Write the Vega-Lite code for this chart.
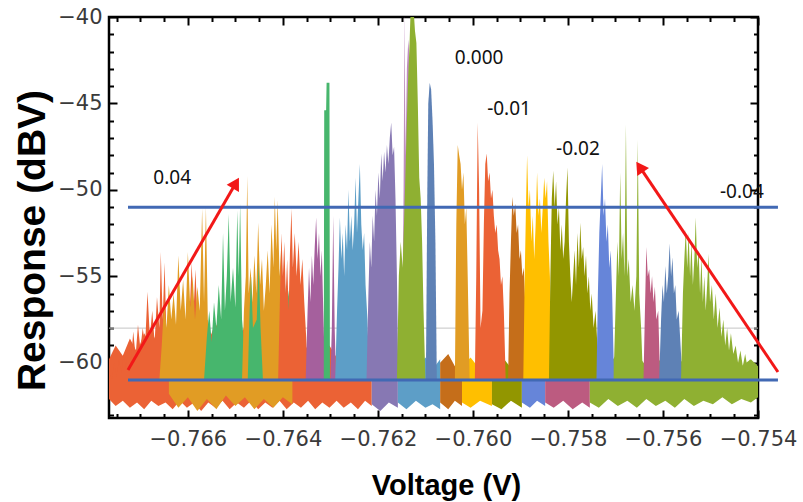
{
  "$schema": "https://vega.github.io/schema/vega-lite/v6.json",
  "width": 649,
  "height": 401,
  "autosize": "none",
  "padding": {"left": 109, "top": 17, "right": 45, "bottom": 84},
  "background": "white",
  "config": {
    "view": {"stroke": "#000", "strokeWidth": 2.5},
    "axis": {"grid": false, "domain": false, "tickColor": "#000", "tickWidth": 2, "labelFont": "DejaVu Sans", "labelFontSize": 21, "labelColor": "#3a3a3a", "titleFont": "Liberation Sans", "titleFontWeight": "bold", "titleColor": "#000", "labelFlush": false, "labelOverlap": false}
  },
  "resolve": {"axis": {"x": "independent", "y": "independent"}},
  "datasets": {
    "grid": [{"r": -58}],
    "floor": [
      {"s":"f1","v":-0.76766,"hi":-59.8,"lo":-62.1},{"s":"f1","v":-0.76752,"hi":-59.0,"lo":-62.5},{"s":"f1","v":-0.76737,"hi":-59.6,"lo":-62.2},{"s":"f1","v":-0.76722,"hi":-58.6,"lo":-62.6},{"s":"f1","v":-0.76707,"hi":-59.4,"lo":-62.3},{"s":"f1","v":-0.76692,"hi":-58.3,"lo":-62.7},{"s":"f1","v":-0.76677,"hi":-59.0,"lo":-62.2},{"s":"f1","v":-0.76662,"hi":-58.0,"lo":-62.5},{"s":"f1","v":-0.76647,"hi":-58.8,"lo":-62.3},{"s":"f1","v":-0.76632,"hi":-57.8,"lo":-62.7},{"s":"f1","v":-0.76617,"hi":-58.7,"lo":-62.2},{"s":"f1","v":-0.76602,"hi":-57.6,"lo":-62.6},{"s":"f1","v":-0.76587,"hi":-58.5,"lo":-62.3},{"s":"f1","v":-0.76572,"hi":-57.9,"lo":-62.8},{"s":"f1","v":-0.76557,"hi":-58.8,"lo":-62.3},{"s":"f1","v":-0.76542,"hi":-57.7,"lo":-62.6},{"s":"f1","v":-0.76527,"hi":-58.6,"lo":-62.2},{"s":"f1","v":-0.76512,"hi":-57.9,"lo":-62.7},{"s":"f1","v":-0.76497,"hi":-58.9,"lo":-62.3},{"s":"f1","v":-0.76482,"hi":-58.0,"lo":-62.6},{"s":"f1","v":-0.76467,"hi":-58.8,"lo":-62.2},{"s":"f1","v":-0.76452,"hi":-58.1,"lo":-62.7},{"s":"f1","v":-0.76437,"hi":-59.0,"lo":-62.3},{"s":"f1","v":-0.76422,"hi":-58.2,"lo":-62.6},{"s":"f1","v":-0.76407,"hi":-58.9,"lo":-62.2},{"s":"f1","v":-0.76392,"hi":-58.3,"lo":-62.7},{"s":"f1","v":-0.76377,"hi":-59.1,"lo":-62.3},{"s":"f1","v":-0.76362,"hi":-58.5,"lo":-62.6},{"s":"f1","v":-0.76347,"hi":-59.3,"lo":-62.2},{"s":"f1","v":-0.76332,"hi":-58.8,"lo":-62.7},{"s":"f1","v":-0.76317,"hi":-59.5,"lo":-62.3},{"s":"f1","v":-0.76302,"hi":-59.0,"lo":-62.6},{"s":"f1","v":-0.76287,"hi":-59.7,"lo":-62.2},{"s":"f1","v":-0.76272,"hi":-59.2,"lo":-62.6},{"s":"f1","v":-0.76257,"hi":-59.8,"lo":-62.3},{"s":"f1","v":-0.76242,"hi":-59.3,"lo":-62.7},{"s":"f1","v":-0.76227,"hi":-59.9,"lo":-62.2},{"s":"f1","v":-0.76213,"hi":-59.5,"lo":-62.5},
      {"s":"fb","v":-0.76640,"hi":-60.5,"lo":-61.8},{"s":"fb","v":-0.76620,"hi":-59.6,"lo":-62.6},{"s":"fb","v":-0.76600,"hi":-60.3,"lo":-62.0},{"s":"fb","v":-0.76580,"hi":-59.4,"lo":-62.8},{"s":"fb","v":-0.76560,"hi":-60.4,"lo":-62.1},{"s":"fb","v":-0.76540,"hi":-59.7,"lo":-62.7},{"s":"fb","v":-0.76520,"hi":-60.6,"lo":-61.9},{"s":"fb","v":-0.76500,"hi":-59.8,"lo":-62.5},{"s":"fb","v":-0.76480,"hi":-60.5,"lo":-62.0},{"s":"fb","v":-0.76460,"hi":-59.6,"lo":-62.7},{"s":"fb","v":-0.76440,"hi":-60.4,"lo":-62.1},{"s":"fb","v":-0.76420,"hi":-59.9,"lo":-62.6},{"s":"fb","v":-0.76400,"hi":-60.6,"lo":-62.0},{"s":"fb","v":-0.76380,"hi":-60.2,"lo":-62.4},
      {"s":"f2","v":-0.76213,"hi":-60.2,"lo":-62.4},{"s":"f2","v":-0.76195,"hi":-59.7,"lo":-62.8},{"s":"f2","v":-0.76177,"hi":-60.4,"lo":-62.3},{"s":"f2","v":-0.76158,"hi":-59.8,"lo":-62.6},
      {"s":"f3","v":-0.76158,"hi":-60.1,"lo":-62.3},{"s":"f3","v":-0.76140,"hi":-59.6,"lo":-62.7},{"s":"f3","v":-0.76120,"hi":-60.3,"lo":-62.2},{"s":"f3","v":-0.76100,"hi":-59.7,"lo":-62.6},{"s":"f3","v":-0.76085,"hi":-60.4,"lo":-62.4},{"s":"f3","v":-0.76069,"hi":-59.8,"lo":-62.7},
      {"s":"f4","v":-0.76069,"hi":-60.0,"lo":-62.3},{"s":"f4","v":-0.76052,"hi":-59.5,"lo":-62.7},{"s":"f4","v":-0.76038,"hi":-60.2,"lo":-62.2},{"s":"f4","v":-0.76023,"hi":-59.7,"lo":-62.5},
      {"s":"f5","v":-0.76023,"hi":-60.2,"lo":-62.3},{"s":"f5","v":-0.76005,"hi":-59.7,"lo":-62.6},{"s":"f5","v":-0.75985,"hi":-60.4,"lo":-62.2},{"s":"f5","v":-0.75960,"hi":-59.8,"lo":-62.5},
      {"s":"f6","v":-0.75960,"hi":-60.1,"lo":-62.4},{"s":"f6","v":-0.75940,"hi":-59.6,"lo":-62.7},{"s":"f6","v":-0.75920,"hi":-60.3,"lo":-62.2},{"s":"f6","v":-0.75897,"hi":-59.8,"lo":-62.6},
      {"s":"f7","v":-0.75897,"hi":-60.2,"lo":-62.3},{"s":"f7","v":-0.75880,"hi":-59.7,"lo":-62.6},{"s":"f7","v":-0.75865,"hi":-60.3,"lo":-62.2},{"s":"f7","v":-0.75848,"hi":-59.9,"lo":-62.5},
      {"s":"f8","v":-0.75848,"hi":-60.1,"lo":-62.3},{"s":"f8","v":-0.75830,"hi":-59.6,"lo":-62.6},{"s":"f8","v":-0.75810,"hi":-60.4,"lo":-62.2},{"s":"f8","v":-0.75790,"hi":-59.7,"lo":-62.7},{"s":"f8","v":-0.75770,"hi":-60.3,"lo":-62.3},{"s":"f8","v":-0.75754,"hi":-59.8,"lo":-62.6},
      {"s":"f9","v":-0.75754,"hi":-60.0,"lo":-62.3},{"s":"f9","v":-0.75735,"hi":-59.5,"lo":-62.6},{"s":"f9","v":-0.75715,"hi":-60.2,"lo":-62.1},{"s":"f9","v":-0.75695,"hi":-59.4,"lo":-62.5},{"s":"f9","v":-0.75675,"hi":-60.1,"lo":-62.2},{"s":"f9","v":-0.75655,"hi":-59.5,"lo":-62.6},{"s":"f9","v":-0.75635,"hi":-60.2,"lo":-62.1},{"s":"f9","v":-0.75615,"hi":-59.6,"lo":-62.5},{"s":"f9","v":-0.75595,"hi":-60.3,"lo":-62.2},{"s":"f9","v":-0.75575,"hi":-59.5,"lo":-62.6},{"s":"f9","v":-0.75555,"hi":-60.1,"lo":-62.1},{"s":"f9","v":-0.75535,"hi":-59.4,"lo":-62.5},{"s":"f9","v":-0.75515,"hi":-60.2,"lo":-62.2},{"s":"f9","v":-0.75495,"hi":-59.6,"lo":-62.4},{"s":"f9","v":-0.75475,"hi":-60.3,"lo":-62.0},{"s":"f9","v":-0.75455,"hi":-59.7,"lo":-62.4},{"s":"f9","v":-0.75435,"hi":-60.2,"lo":-62.1},{"s":"f9","v":-0.75415,"hi":-59.8,"lo":-62.3},{"s":"f9","v":-0.75400,"hi":-60.2,"lo":-62.0}
    ],
    "peaks": [
      {"s":"g01","v":-0.76766,"r":-60.5},{"s":"g01","v":-0.76760,"r":-61.0},{"s":"g01","v":-0.76755,"r":-60.0},{"s":"g01","v":-0.76750,"r":-60.8},{"s":"g01","v":-0.76745,"r":-59.8},{"s":"g01","v":-0.76740,"r":-60.6},{"s":"g01","v":-0.76735,"r":-59.5},{"s":"g01","v":-0.76730,"r":-60.4},{"s":"g01","v":-0.76725,"r":-58.8},{"s":"g01","v":-0.76720,"r":-60.0},{"s":"g01","v":-0.76715,"r":-58.2},{"s":"g01","v":-0.76710,"r":-59.6},{"s":"g01","v":-0.76705,"r":-57.8},{"s":"g01","v":-0.76700,"r":-59.2},{"s":"g01","v":-0.76695,"r":-58.0},{"s":"g01","v":-0.76690,"r":-59.0},{"s":"g01","v":-0.76685,"r":-55.9},{"s":"g01","v":-0.76680,"r":-58.5},{"s":"g01","v":-0.76675,"r":-57.0},{"s":"g01","v":-0.76670,"r":-58.8},{"s":"g01","v":-0.76665,"r":-56.2},{"s":"g01","v":-0.76660,"r":-58.0},{"s":"g01","v":-0.76657,"r":-53.6},{"s":"g01","v":-0.76653,"r":-57.5},{"s":"g01","v":-0.76649,"r":-54.2},{"s":"g01","v":-0.76645,"r":-58.5},{"s":"g01","v":-0.76640,"r":-56.5},{"s":"g01","v":-0.76635,"r":-59.5},{"s":"g01","v":-0.76630,"r":-61.0},{"s":"g01","v":-0.76600,"r":-61.0},{"s":"g01","v":-0.76596,"r":-57.0},{"s":"g01","v":-0.76592,"r":-54.2},{"s":"g01","v":-0.76588,"r":-57.0},{"s":"g01","v":-0.76584,"r":-54.6},{"s":"g01","v":-0.76580,"r":-57.5},{"s":"g01","v":-0.76576,"r":-61.0},
      {"s":"g02","v":-0.76660,"r":-61.0},{"s":"g02","v":-0.76655,"r":-59.0},{"s":"g02","v":-0.76650,"r":-56.5},{"s":"g02","v":-0.76645,"r":-58.0},{"s":"g02","v":-0.76640,"r":-55.5},{"s":"g02","v":-0.76635,"r":-57.5},{"s":"g02","v":-0.76630,"r":-56.0},{"s":"g02","v":-0.76625,"r":-57.8},{"s":"g02","v":-0.76620,"r":-53.8},{"s":"g02","v":-0.76615,"r":-57.0},{"s":"g02","v":-0.76610,"r":-55.2},{"s":"g02","v":-0.76605,"r":-57.5},{"s":"g02","v":-0.76600,"r":-53.6},{"s":"g02","v":-0.76595,"r":-56.8},{"s":"g02","v":-0.76590,"r":-55.0},{"s":"g02","v":-0.76585,"r":-57.5},{"s":"g02","v":-0.76580,"r":-55.6},{"s":"g02","v":-0.76575,"r":-57.0},{"s":"g02","v":-0.76570,"r":-51.1},{"s":"g02","v":-0.76566,"r":-56.5},{"s":"g02","v":-0.76562,"r":-51.0},{"s":"g02","v":-0.76558,"r":-57.5},{"s":"g02","v":-0.76552,"r":-58.5},{"s":"g02","v":-0.76545,"r":-61.0},
      {"s":"g03","v":-0.76566,"r":-61.0},{"s":"g03","v":-0.76560,"r":-58.5},{"s":"g03","v":-0.76555,"r":-57.0},{"s":"g03","v":-0.76550,"r":-58.8},{"s":"g03","v":-0.76545,"r":-56.5},{"s":"g03","v":-0.76540,"r":-58.0},{"s":"g03","v":-0.76535,"r":-55.5},{"s":"g03","v":-0.76530,"r":-57.5},{"s":"g03","v":-0.76526,"r":-52.5},{"s":"g03","v":-0.76522,"r":-57.0},{"s":"g03","v":-0.76518,"r":-55.0},{"s":"g03","v":-0.76514,"r":-51.4},{"s":"g03","v":-0.76510,"r":-56.5},{"s":"g03","v":-0.76505,"r":-54.5},{"s":"g03","v":-0.76500,"r":-56.8},{"s":"g03","v":-0.76496,"r":-51.2},{"s":"g03","v":-0.76493,"r":-55.0},{"s":"g03","v":-0.76490,"r":-50.8},{"s":"g03","v":-0.76486,"r":-57.5},{"s":"g03","v":-0.76480,"r":-59.5},{"s":"g03","v":-0.76475,"r":-61.0},
      {"s":"g04","v":-0.76486,"r":-61.0},{"s":"g04","v":-0.76482,"r":-57.0},{"s":"g04","v":-0.76478,"r":-55.0},{"s":"g04","v":-0.76475,"r":-49.2},{"s":"g04","v":-0.76472,"r":-56.0},{"s":"g04","v":-0.76468,"r":-54.5},{"s":"g04","v":-0.76464,"r":-56.5},{"s":"g04","v":-0.76460,"r":-53.8},{"s":"g04","v":-0.76456,"r":-56.0},{"s":"g04","v":-0.76452,"r":-51.9},{"s":"g04","v":-0.76448,"r":-55.5},{"s":"g04","v":-0.76444,"r":-54.0},{"s":"g04","v":-0.76440,"r":-57.0},{"s":"g04","v":-0.76436,"r":-55.5},{"s":"g04","v":-0.76432,"r":-53.5},{"s":"g04","v":-0.76428,"r":-56.0},{"s":"g04","v":-0.76424,"r":-52.0},{"s":"g04","v":-0.76420,"r":-54.5},{"s":"g04","v":-0.76417,"r":-50.4},{"s":"g04","v":-0.76414,"r":-53.5},{"s":"g04","v":-0.76411,"r":-50.6},{"s":"g04","v":-0.76407,"r":-55.0},{"s":"g04","v":-0.76403,"r":-53.0},{"s":"g04","v":-0.76399,"r":-57.5},{"s":"g04","v":-0.76394,"r":-59.5},{"s":"g04","v":-0.76390,"r":-61.0},
      {"s":"g05","v":-0.76474,"r":-61.0},{"s":"g05","v":-0.76470,"r":-57.0},{"s":"g05","v":-0.76467,"r":-55.0},{"s":"g05","v":-0.76463,"r":-58.0},{"s":"g05","v":-0.76455,"r":-57.5},{"s":"g05","v":-0.76451,"r":-54.2},{"s":"g05","v":-0.76447,"r":-58.0},{"s":"g05","v":-0.76442,"r":-61.0},{"s":"g05","v":-0.76404,"r":-61.0},{"s":"g05","v":-0.76400,"r":-57.5},{"s":"g05","v":-0.76396,"r":-55.2},{"s":"g05","v":-0.76392,"r":-57.0},{"s":"g05","v":-0.76388,"r":-55.8},{"s":"g05","v":-0.76384,"r":-58.0},{"s":"g05","v":-0.76380,"r":-61.0},
      {"s":"g06","v":-0.76410,"r":-61.0},{"s":"g06","v":-0.76406,"r":-56.0},{"s":"g06","v":-0.76403,"r":-52.5},{"s":"g06","v":-0.76400,"r":-55.0},{"s":"g06","v":-0.76397,"r":-53.0},{"s":"g06","v":-0.76394,"r":-56.0},{"s":"g06","v":-0.76391,"r":-54.0},{"s":"g06","v":-0.76388,"r":-57.0},{"s":"g06","v":-0.76385,"r":-53.5},{"s":"g06","v":-0.76382,"r":-51.1},{"s":"g06","v":-0.76379,"r":-54.5},{"s":"g06","v":-0.76375,"r":-52.5},{"s":"g06","v":-0.76371,"r":-55.0},{"s":"g06","v":-0.76367,"r":-53.0},{"s":"g06","v":-0.76363,"r":-55.5},{"s":"g06","v":-0.76359,"r":-54.0},{"s":"g06","v":-0.76355,"r":-56.5},{"s":"g06","v":-0.76351,"r":-58.5},{"s":"g06","v":-0.76347,"r":-61.0},
      {"s":"g07","v":-0.76352,"r":-61.0},{"s":"g07","v":-0.76348,"r":-57.0},{"s":"g07","v":-0.76345,"r":-54.5},{"s":"g07","v":-0.76342,"r":-56.5},{"s":"g07","v":-0.76339,"r":-53.8},{"s":"g07","v":-0.76336,"r":-55.5},{"s":"g07","v":-0.76333,"r":-53.3},{"s":"g07","v":-0.76330,"r":-51.6},{"s":"g07","v":-0.76327,"r":-54.0},{"s":"g07","v":-0.76324,"r":-52.5},{"s":"g07","v":-0.76321,"r":-55.0},{"s":"g07","v":-0.76318,"r":-53.5},{"s":"g07","v":-0.76315,"r":-57.0},{"s":"g07","v":-0.76311,"r":-61.0},{"s":"g07","v":-0.76300,"r":-61.0},{"s":"g07","v":-0.76297,"r":-58.0},{"s":"g07","v":-0.76294,"r":-51.5},{"s":"g07","v":-0.76291,"r":-58.0},{"s":"g07","v":-0.76288,"r":-61.0},
      {"s":"g08","v":-0.76314,"r":-61.0},{"s":"g08","v":-0.76313,"r":-45.4},{"s":"g08","v":-0.76309,"r":-45.4},{"s":"g08","v":-0.76308,"r":-43.8},{"s":"g08","v":-0.76302,"r":-43.8},{"s":"g08","v":-0.76301,"r":-61.0},
      {"s":"g10","v":-0.76290,"r":-61.0},{"s":"g10","v":-0.76286,"r":-57.0},{"s":"g10","v":-0.76283,"r":-54.5},{"s":"g10","v":-0.76280,"r":-51.6},{"s":"g10","v":-0.76277,"r":-54.0},{"s":"g10","v":-0.76274,"r":-52.5},{"s":"g10","v":-0.76271,"r":-55.0},{"s":"g10","v":-0.76268,"r":-52.0},{"s":"g10","v":-0.76265,"r":-53.5},{"s":"g10","v":-0.76262,"r":-50.0},{"s":"g10","v":-0.76259,"r":-53.0},{"s":"g10","v":-0.76256,"r":-51.5},{"s":"g10","v":-0.76253,"r":-53.5},{"s":"g10","v":-0.76250,"r":-52.0},{"s":"g10","v":-0.76247,"r":-49.3},{"s":"g10","v":-0.76244,"r":-52.5},{"s":"g10","v":-0.76241,"r":-50.5},{"s":"g10","v":-0.76238,"r":-48.5},{"s":"g10","v":-0.76235,"r":-52.0},{"s":"g10","v":-0.76232,"r":-53.5},{"s":"g10","v":-0.76229,"r":-52.5},{"s":"g10","v":-0.76226,"r":-55.5},{"s":"g10","v":-0.76222,"r":-57.5},{"s":"g10","v":-0.76218,"r":-61.0},
      {"s":"g11","v":-0.76224,"r":-61.0},{"s":"g11","v":-0.76220,"r":-56.0},{"s":"g11","v":-0.76217,"r":-53.0},{"s":"g11","v":-0.76214,"r":-54.5},{"s":"g11","v":-0.76211,"r":-51.5},{"s":"g11","v":-0.76208,"r":-53.0},{"s":"g11","v":-0.76205,"r":-50.0},{"s":"g11","v":-0.76202,"r":-51.5},{"s":"g11","v":-0.76199,"r":-49.0},{"s":"g11","v":-0.76196,"r":-50.5},{"s":"g11","v":-0.76193,"r":-47.9},{"s":"g11","v":-0.76190,"r":-49.5},{"s":"g11","v":-0.76187,"r":-47.8},{"s":"g11","v":-0.76184,"r":-49.0},{"s":"g11","v":-0.76181,"r":-47.4},{"s":"g11","v":-0.76178,"r":-48.5},{"s":"g11","v":-0.76175,"r":-47.0},{"s":"g11","v":-0.76172,"r":-46.1},{"s":"g11","v":-0.76169,"r":-48.0},{"s":"g11","v":-0.76166,"r":-47.5},{"s":"g11","v":-0.76163,"r":-50.5},{"s":"g11","v":-0.76160,"r":-55.0},{"s":"g11","v":-0.76157,"r":-61.0},
      {"s":"g12","v":-0.76150,"r":-61.0},{"s":"g12","v":-0.76146,"r":-50.0},{"s":"g12","v":-0.76144,"r":-39.5},{"s":"g12","v":-0.76142,"r":-48.0},{"s":"g12","v":-0.76139,"r":-43.0},{"s":"g12","v":-0.76136,"r":-41.3},{"s":"g12","v":-0.76133,"r":-42.5},{"s":"g12","v":-0.76130,"r":-50.0},{"s":"g12","v":-0.76127,"r":-61.0},
      {"s":"g13","v":-0.76160,"r":-61.0},{"s":"g13","v":-0.76156,"r":-55.0},{"s":"g13","v":-0.76152,"r":-53.0},{"s":"g13","v":-0.76148,"r":-54.5},{"s":"g13","v":-0.76144,"r":-51.0},{"s":"g13","v":-0.76140,"r":-47.0},{"s":"g13","v":-0.76137,"r":-44.0},{"s":"g13","v":-0.76134,"r":-42.0},{"s":"g13","v":-0.76131,"r":-39.5},{"s":"g13","v":-0.76128,"r":-39.5},{"s":"g13","v":-0.76125,"r":-39.5},{"s":"g13","v":-0.76122,"r":-40.8},{"s":"g13","v":-0.76119,"r":-41.5},{"s":"g13","v":-0.76116,"r":-45.0},{"s":"g13","v":-0.76113,"r":-49.3},{"s":"g13","v":-0.76110,"r":-50.5},{"s":"g13","v":-0.76107,"r":-53.0},{"s":"g13","v":-0.76104,"r":-57.0},{"s":"g13","v":-0.76100,"r":-61.0},
      {"s":"g14","v":-0.76099,"r":-61.0},{"s":"g14","v":-0.76096,"r":-50.0},{"s":"g14","v":-0.76094,"r":-45.0},{"s":"g14","v":-0.76091,"r":-43.8},{"s":"g14","v":-0.76088,"r":-44.2},{"s":"g14","v":-0.76085,"r":-46.0},{"s":"g14","v":-0.76082,"r":-48.5},{"s":"g14","v":-0.76079,"r":-53.0},{"s":"g14","v":-0.76076,"r":-61.0},
      {"s":"g15","v":-0.76038,"r":-61.0},{"s":"g15","v":-0.76035,"r":-52.0},{"s":"g15","v":-0.76032,"r":-47.4},{"s":"g15","v":-0.76029,"r":-48.0},{"s":"g15","v":-0.76026,"r":-48.5},{"s":"g15","v":-0.76023,"r":-50.0},{"s":"g15","v":-0.76020,"r":-49.0},{"s":"g15","v":-0.76017,"r":-52.0},{"s":"g15","v":-0.76014,"r":-51.0},{"s":"g15","v":-0.76011,"r":-55.0},{"s":"g15","v":-0.76007,"r":-61.0},
      {"s":"g16","v":-0.75996,"r":-61.0},{"s":"g16","v":-0.75993,"r":-55.0},{"s":"g16","v":-0.75990,"r":-46.1},{"s":"g16","v":-0.75987,"r":-50.0},{"s":"g16","v":-0.75984,"r":-58.0},{"s":"g16","v":-0.75980,"r":-57.0},{"s":"g16","v":-0.75977,"r":-52.0},{"s":"g16","v":-0.75974,"r":-48.5},{"s":"g16","v":-0.75971,"r":-47.9},{"s":"g16","v":-0.75968,"r":-49.5},{"s":"g16","v":-0.75965,"r":-49.0},{"s":"g16","v":-0.75962,"r":-50.5},{"s":"g16","v":-0.75959,"r":-50.0},{"s":"g16","v":-0.75956,"r":-51.5},{"s":"g16","v":-0.75953,"r":-52.5},{"s":"g16","v":-0.75950,"r":-52.0},{"s":"g16","v":-0.75947,"r":-53.5},{"s":"g16","v":-0.75944,"r":-54.0},{"s":"g16","v":-0.75941,"r":-55.5},{"s":"g16","v":-0.75938,"r":-55.0},{"s":"g16","v":-0.75935,"r":-57.0},{"s":"g16","v":-0.75931,"r":-61.0},
      {"s":"g17","v":-0.75926,"r":-61.0},{"s":"g17","v":-0.75923,"r":-56.0},{"s":"g17","v":-0.75920,"r":-53.0},{"s":"g17","v":-0.75917,"r":-50.4},{"s":"g17","v":-0.75914,"r":-51.5},{"s":"g17","v":-0.75911,"r":-50.8},{"s":"g17","v":-0.75908,"r":-52.5},{"s":"g17","v":-0.75905,"r":-52.0},{"s":"g17","v":-0.75902,"r":-54.0},{"s":"g17","v":-0.75899,"r":-53.5},{"s":"g17","v":-0.75896,"r":-55.0},{"s":"g17","v":-0.75893,"r":-54.5},{"s":"g17","v":-0.75890,"r":-56.5},{"s":"g17","v":-0.75886,"r":-55.5},{"s":"g17","v":-0.75882,"r":-57.5},{"s":"g17","v":-0.75878,"r":-61.0},
      {"s":"g18","v":-0.75894,"r":-61.0},{"s":"g18","v":-0.75891,"r":-55.0},{"s":"g18","v":-0.75888,"r":-50.5},{"s":"g18","v":-0.75886,"r":-48.0},{"s":"g18","v":-0.75883,"r":-51.0},{"s":"g18","v":-0.75880,"r":-50.0},{"s":"g18","v":-0.75877,"r":-53.0},{"s":"g18","v":-0.75874,"r":-51.5},{"s":"g18","v":-0.75871,"r":-54.0},{"s":"g18","v":-0.75868,"r":-52.0},{"s":"g18","v":-0.75865,"r":-49.0},{"s":"g18","v":-0.75862,"r":-51.5},{"s":"g18","v":-0.75859,"r":-50.5},{"s":"g18","v":-0.75856,"r":-52.5},{"s":"g18","v":-0.75853,"r":-51.0},{"s":"g18","v":-0.75850,"r":-49.3},{"s":"g18","v":-0.75847,"r":-50.5},{"s":"g18","v":-0.75844,"r":-49.5},{"s":"g18","v":-0.75841,"r":-53.0},{"s":"g18","v":-0.75838,"r":-55.0},{"s":"g18","v":-0.75834,"r":-61.0},
      {"s":"g19","v":-0.75840,"r":-61.0},{"s":"g19","v":-0.75837,"r":-55.0},{"s":"g19","v":-0.75834,"r":-50.5},{"s":"g19","v":-0.75831,"r":-48.9},{"s":"g19","v":-0.75828,"r":-51.0},{"s":"g19","v":-0.75825,"r":-49.5},{"s":"g19","v":-0.75822,"r":-52.0},{"s":"g19","v":-0.75819,"r":-51.0},{"s":"g19","v":-0.75816,"r":-53.5},{"s":"g19","v":-0.75813,"r":-52.0},{"s":"g19","v":-0.75810,"r":-54.0},{"s":"g19","v":-0.75807,"r":-53.0},{"s":"g19","v":-0.75804,"r":-50.5},{"s":"g19","v":-0.75801,"r":-48.7},{"s":"g19","v":-0.75798,"r":-53.0},{"s":"g19","v":-0.75795,"r":-55.0},{"s":"g19","v":-0.75792,"r":-56.5},{"s":"g19","v":-0.75789,"r":-55.0},{"s":"g19","v":-0.75786,"r":-53.5},{"s":"g19","v":-0.75783,"r":-55.5},{"s":"g19","v":-0.75780,"r":-52.5},{"s":"g19","v":-0.75777,"r":-54.5},{"s":"g19","v":-0.75774,"r":-51.9},{"s":"g19","v":-0.75771,"r":-54.0},{"s":"g19","v":-0.75768,"r":-53.3},{"s":"g19","v":-0.75765,"r":-55.0},{"s":"g19","v":-0.75762,"r":-53.8},{"s":"g19","v":-0.75759,"r":-56.0},{"s":"g19","v":-0.75756,"r":-55.0},{"s":"g19","v":-0.75753,"r":-57.0},{"s":"g19","v":-0.75750,"r":-56.0},{"s":"g19","v":-0.75746,"r":-58.0},{"s":"g19","v":-0.75742,"r":-57.0},{"s":"g19","v":-0.75738,"r":-59.0},{"s":"g19","v":-0.75734,"r":-61.0},
      {"s":"g20","v":-0.75740,"r":-61.0},{"s":"g20","v":-0.75737,"r":-56.0},{"s":"g20","v":-0.75734,"r":-52.5},{"s":"g20","v":-0.75731,"r":-50.5},{"s":"g20","v":-0.75728,"r":-48.5},{"s":"g20","v":-0.75725,"r":-51.5},{"s":"g20","v":-0.75722,"r":-50.5},{"s":"g20","v":-0.75719,"r":-53.0},{"s":"g20","v":-0.75716,"r":-52.0},{"s":"g20","v":-0.75713,"r":-54.5},{"s":"g20","v":-0.75710,"r":-53.5},{"s":"g20","v":-0.75707,"r":-56.0},{"s":"g20","v":-0.75703,"r":-61.0},{"s":"g20","v":-0.75682,"r":-61.0},{"s":"g20","v":-0.75679,"r":-57.0},{"s":"g20","v":-0.75676,"r":-55.7},{"s":"g20","v":-0.75673,"r":-57.5},{"s":"g20","v":-0.75670,"r":-56.0},{"s":"g20","v":-0.75667,"r":-58.0},{"s":"g20","v":-0.75663,"r":-61.0},
      {"s":"g21","v":-0.75704,"r":-61.0},{"s":"g21","v":-0.75700,"r":-57.0},{"s":"g21","v":-0.75696,"r":-53.0},{"s":"g21","v":-0.75693,"r":-55.0},{"s":"g21","v":-0.75690,"r":-49.0},{"s":"g21","v":-0.75687,"r":-54.0},{"s":"g21","v":-0.75684,"r":-52.5},{"s":"g21","v":-0.75681,"r":-55.0},{"s":"g21","v":-0.75678,"r":-46.2},{"s":"g21","v":-0.75675,"r":-55.0},{"s":"g21","v":-0.75672,"r":-54.0},{"s":"g21","v":-0.75668,"r":-56.5},{"s":"g21","v":-0.75664,"r":-55.5},{"s":"g21","v":-0.75660,"r":-57.0},{"s":"g21","v":-0.75656,"r":-55.0},{"s":"g21","v":-0.75653,"r":-47.1},{"s":"g21","v":-0.75650,"r":-56.0},{"s":"g21","v":-0.75646,"r":-58.0},{"s":"g21","v":-0.75642,"r":-61.0},
      {"s":"g22","v":-0.75641,"r":-61.0},{"s":"g22","v":-0.75638,"r":-57.0},{"s":"g22","v":-0.75635,"r":-53.3},{"s":"g22","v":-0.75632,"r":-55.0},{"s":"g22","v":-0.75629,"r":-54.6},{"s":"g22","v":-0.75626,"r":-56.0},{"s":"g22","v":-0.75623,"r":-55.0},{"s":"g22","v":-0.75620,"r":-56.5},{"s":"g22","v":-0.75617,"r":-55.6},{"s":"g22","v":-0.75614,"r":-57.5},{"s":"g22","v":-0.75610,"r":-57.0},{"s":"g22","v":-0.75606,"r":-61.0},
      {"s":"g23","v":-0.75608,"r":-61.0},{"s":"g23","v":-0.75604,"r":-57.5},{"s":"g23","v":-0.75601,"r":-55.5},{"s":"g23","v":-0.75598,"r":-56.5},{"s":"g23","v":-0.75595,"r":-54.4},{"s":"g23","v":-0.75592,"r":-56.0},{"s":"g23","v":-0.75589,"r":-55.0},{"s":"g23","v":-0.75586,"r":-53.1},{"s":"g23","v":-0.75583,"r":-55.0},{"s":"g23","v":-0.75580,"r":-53.9},{"s":"g23","v":-0.75577,"r":-56.0},{"s":"g23","v":-0.75574,"r":-55.5},{"s":"g23","v":-0.75571,"r":-57.5},{"s":"g23","v":-0.75567,"r":-57.0},{"s":"g23","v":-0.75563,"r":-59.0},{"s":"g23","v":-0.75559,"r":-61.0},
      {"s":"g24","v":-0.75562,"r":-61.0},{"s":"g24","v":-0.75558,"r":-56.0},{"s":"g24","v":-0.75555,"r":-54.0},{"s":"g24","v":-0.75552,"r":-52.3},{"s":"g24","v":-0.75549,"r":-54.5},{"s":"g24","v":-0.75546,"r":-52.5},{"s":"g24","v":-0.75543,"r":-55.0},{"s":"g24","v":-0.75540,"r":-53.0},{"s":"g24","v":-0.75537,"r":-55.5},{"s":"g24","v":-0.75534,"r":-54.0},{"s":"g24","v":-0.75531,"r":-51.6},{"s":"g24","v":-0.75528,"r":-54.5},{"s":"g24","v":-0.75525,"r":-53.5},{"s":"g24","v":-0.75522,"r":-56.0},{"s":"g24","v":-0.75519,"r":-53.9},{"s":"g24","v":-0.75516,"r":-56.5},{"s":"g24","v":-0.75513,"r":-55.0},{"s":"g24","v":-0.75510,"r":-57.0},{"s":"g24","v":-0.75507,"r":-55.5},{"s":"g24","v":-0.75504,"r":-53.7},{"s":"g24","v":-0.75501,"r":-56.5},{"s":"g24","v":-0.75497,"r":-55.5},{"s":"g24","v":-0.75493,"r":-57.5},{"s":"g24","v":-0.75489,"r":-56.0},{"s":"g24","v":-0.75485,"r":-58.0},{"s":"g24","v":-0.75481,"r":-56.8},{"s":"g24","v":-0.75477,"r":-58.5},{"s":"g24","v":-0.75473,"r":-57.5},{"s":"g24","v":-0.75469,"r":-59.0},{"s":"g24","v":-0.75465,"r":-58.0},{"s":"g24","v":-0.75461,"r":-59.3},{"s":"g24","v":-0.75457,"r":-58.3},{"s":"g24","v":-0.75452,"r":-59.5},{"s":"g24","v":-0.75447,"r":-59.0},{"s":"g24","v":-0.75442,"r":-60.0},{"s":"g24","v":-0.75437,"r":-59.3},{"s":"g24","v":-0.75432,"r":-60.2},{"s":"g24","v":-0.75427,"r":-59.5},{"s":"g24","v":-0.75422,"r":-60.3},{"s":"g24","v":-0.75417,"r":-59.8},{"s":"g24","v":-0.75412,"r":-60.4},{"s":"g24","v":-0.75406,"r":-60.0},{"s":"g24","v":-0.75400,"r":-60.5}
    ],
    "refs": [
      {"v1": -0.76726, "v2": -0.75358, "r": -51},
      {"v1": -0.76726, "v2": -0.75358, "r": -61}
    ],
    "arrows": [
      {"v1": -0.76726, "r1": -60.43, "v2": -0.76499, "r2": -49.61},
      {"v1": -0.75358, "r1": -60.54, "v2": -0.75649, "r2": -48.67}
    ],
    "headL": [{"v": -0.76499, "r": -49.61}],
    "headR": [{"v": -0.75649, "r": -48.67}],
    "notes": [
      {"t": "0.04", "v": -0.76633, "r": -49.32},
      {"t": "0.000", "v": -0.75987, "r": -42.37},
      {"t": "-0.01", "v": -0.75924, "r": -45.32},
      {"t": "-0.02", "v": -0.75779, "r": -47.64},
      {"t": "-0.04", "v": -0.75434, "r": -50.13}
    ]
  },
  "layer": [
    {
      "data": {"name": "grid"},
      "mark": {"type": "rule", "color": "#c4c4c4", "strokeWidth": 1},
      "encoding": {
        "y": {"field": "r", "type": "quantitative", "scale": {"domain": [-63.2, -40], "nice": false, "zero": false}, "axis": null}
      }
    },
    {
      "data": {"name": "floor"},
      "mark": {"type": "area", "interpolate": "linear", "clip": true},
      "encoding": {
        "x": {"field": "v", "type": "quantitative", "scale": {"domain": [-0.76766, -0.754], "nice": false, "zero": false},
              "axis": {"orient": "bottom", "values": [-0.766, -0.764, -0.762, -0.76, -0.758, -0.756, -0.754], "format": ".3f", "tickSize": 8, "offset": -8, "labelPadding": 10, "title": "Voltage (V)", "titleFontSize": 29, "titleX": 337, "titleY": 75, "titleAlign": "center", "titleBaseline": "middle"}},
        "y": {"field": "hi", "type": "quantitative", "scale": {"domain": [-63.2, -40], "nice": false, "zero": false},
              "axis": {"orient": "left", "values": [-60, -55, -50, -45, -40], "format": "d", "tickSize": 8, "offset": -8, "labelPadding": 7, "title": "Response (dBV)", "titleFontSize": 39, "titleX": -85, "titleY": 223, "titleAngle": -90, "titleAlign": "center", "titleBaseline": "middle"}},
        "y2": {"field": "lo"},
        "color": {"field": "s", "type": "nominal", "legend": null,
                  "scale": {"domain": ["f1","fb","f2","f3","f4","f5","f6","f7","f8","f9","g01","g02","g03","g04","g05","g06","g07","g08","g10","g11","g12","g13","g14","g15","g16","g17","g18","g19","g20","g21","g22","g23","g24"],
                            "range": ["#EB6235","#E19C24","#8778B3","#5D9EC7","#C56E1A","#FFBF00","#929600","#6685D9","#BC5B80","#8FB032","#EB6235","#E19C24","#47B66D","#E19C24","#47B66D","#EB6235","#A5609D","#47B66D","#5D9EC7","#8778B3","#C08EC0","#8FB032","#5E81B5","#E19C24","#EB6235","#C56E1A","#FFBF00","#929600","#6685D9","#8FB032","#BC5B80","#5E81B5","#8FB032"]}}
      }
    },
    {
      "data": {"name": "peaks"},
      "mark": {"type": "area", "interpolate": "linear", "clip": true},
      "encoding": {
        "x": {"field": "v", "type": "quantitative", "scale": {"domain": [-0.76766, -0.754], "nice": false, "zero": false},
              "axis": {"orient": "bottom", "values": [-0.7675, -0.767, -0.7665, -0.7655, -0.765, -0.7645, -0.7635, -0.763, -0.7625, -0.7615, -0.761, -0.7605, -0.7595, -0.759, -0.7585, -0.7575, -0.757, -0.7565, -0.7555, -0.755, -0.7545], "labels": false, "tickSize": 4.5, "offset": -4.5, "title": null}},
        "y": {"field": "r", "type": "quantitative", "scale": {"domain": [-63.2, -40], "nice": false, "zero": false},
              "axis": {"orient": "left", "values": [-63, -62, -61, -59, -58, -57, -56, -54, -53, -52, -51, -49, -48, -47, -46, -44, -43, -42, -41], "labels": false, "tickSize": 4.5, "offset": -4.5, "title": null}},
        "y2": {"datum": -61},
        "color": {"field": "s", "type": "nominal", "legend": null,
                  "scale": {"domain": ["f1","fb","f2","f3","f4","f5","f6","f7","f8","f9","g01","g02","g03","g04","g05","g06","g07","g08","g10","g11","g12","g13","g14","g15","g16","g17","g18","g19","g20","g21","g22","g23","g24"],
                            "range": ["#EB6235","#E19C24","#8778B3","#5D9EC7","#C56E1A","#FFBF00","#929600","#6685D9","#BC5B80","#8FB032","#EB6235","#E19C24","#47B66D","#E19C24","#47B66D","#EB6235","#A5609D","#47B66D","#5D9EC7","#8778B3","#C08EC0","#8FB032","#5E81B5","#E19C24","#EB6235","#C56E1A","#FFBF00","#929600","#6685D9","#8FB032","#BC5B80","#5E81B5","#8FB032"]}}
      }
    },
    {
      "data": {"name": "headL"},
      "mark": {"type": "point", "shape": "triangle-up", "filled": true, "color": "#F21818", "opacity": 1, "size": 200, "angle": 30},
      "encoding": {
        "x": {"field": "v", "type": "quantitative", "axis": null},
        "y": {"field": "r", "type": "quantitative", "axis": null}
      }
    },
    {
      "data": {"name": "headR"},
      "mark": {"type": "point", "shape": "triangle-up", "filled": true, "color": "#F21818", "opacity": 1, "size": 200, "angle": 326},
      "encoding": {
        "x": {"field": "v", "type": "quantitative", "axis": null},
        "y": {"field": "r", "type": "quantitative", "axis": null}
      }
    },
    {
      "data": {"name": "notes"},
      "mark": {"type": "text", "font": "Noto Sans", "fontSize": 19, "color": "#111", "align": "center", "baseline": "middle"},
      "encoding": {
        "x": {"field": "v", "type": "quantitative", "axis": null},
        "y": {"field": "r", "type": "quantitative", "axis": null},
        "text": {"field": "t"}
      }
    },
    {
      "data": {"name": "refs"},
      "mark": {"type": "rule", "color": "#4169B4", "strokeWidth": 3},
      "encoding": {
        "x": {"field": "v1", "type": "quantitative", "scale": {"domain": [-0.76766, -0.754], "nice": false, "zero": false},
              "axis": {"orient": "top", "values": [-0.766, -0.764, -0.762, -0.76, -0.758, -0.756, -0.754], "labels": false, "tickSize": 8, "offset": -8, "title": null}},
        "x2": {"field": "v2"},
        "y": {"field": "r", "type": "quantitative", "scale": {"domain": [-63.2, -40], "nice": false, "zero": false},
              "axis": {"orient": "right", "values": [-60, -55, -50, -45, -40], "labels": false, "tickSize": 8, "offset": -8, "title": null}}
      }
    },
    {
      "data": {"name": "arrows"},
      "mark": {"type": "rule", "color": "#F21818", "strokeWidth": 3},
      "encoding": {
        "x": {"field": "v1", "type": "quantitative", "scale": {"domain": [-0.76766, -0.754], "nice": false, "zero": false},
              "axis": {"orient": "top", "values": [-0.7675, -0.767, -0.7665, -0.7655, -0.765, -0.7645, -0.7635, -0.763, -0.7625, -0.7615, -0.761, -0.7605, -0.7595, -0.759, -0.7585, -0.7575, -0.757, -0.7565, -0.7555, -0.755, -0.7545], "labels": false, "tickSize": 4.5, "offset": -4.5, "title": null}},
        "x2": {"field": "v2"},
        "y": {"field": "r1", "type": "quantitative", "scale": {"domain": [-63.2, -40], "nice": false, "zero": false},
              "axis": {"orient": "right", "values": [-63, -62, -61, -59, -58, -57, -56, -54, -53, -52, -51, -49, -48, -47, -46, -44, -43, -42, -41], "labels": false, "tickSize": 4.5, "offset": -4.5, "title": null}},
        "y2": {"field": "r2"}
      }
    }
  ]
}
